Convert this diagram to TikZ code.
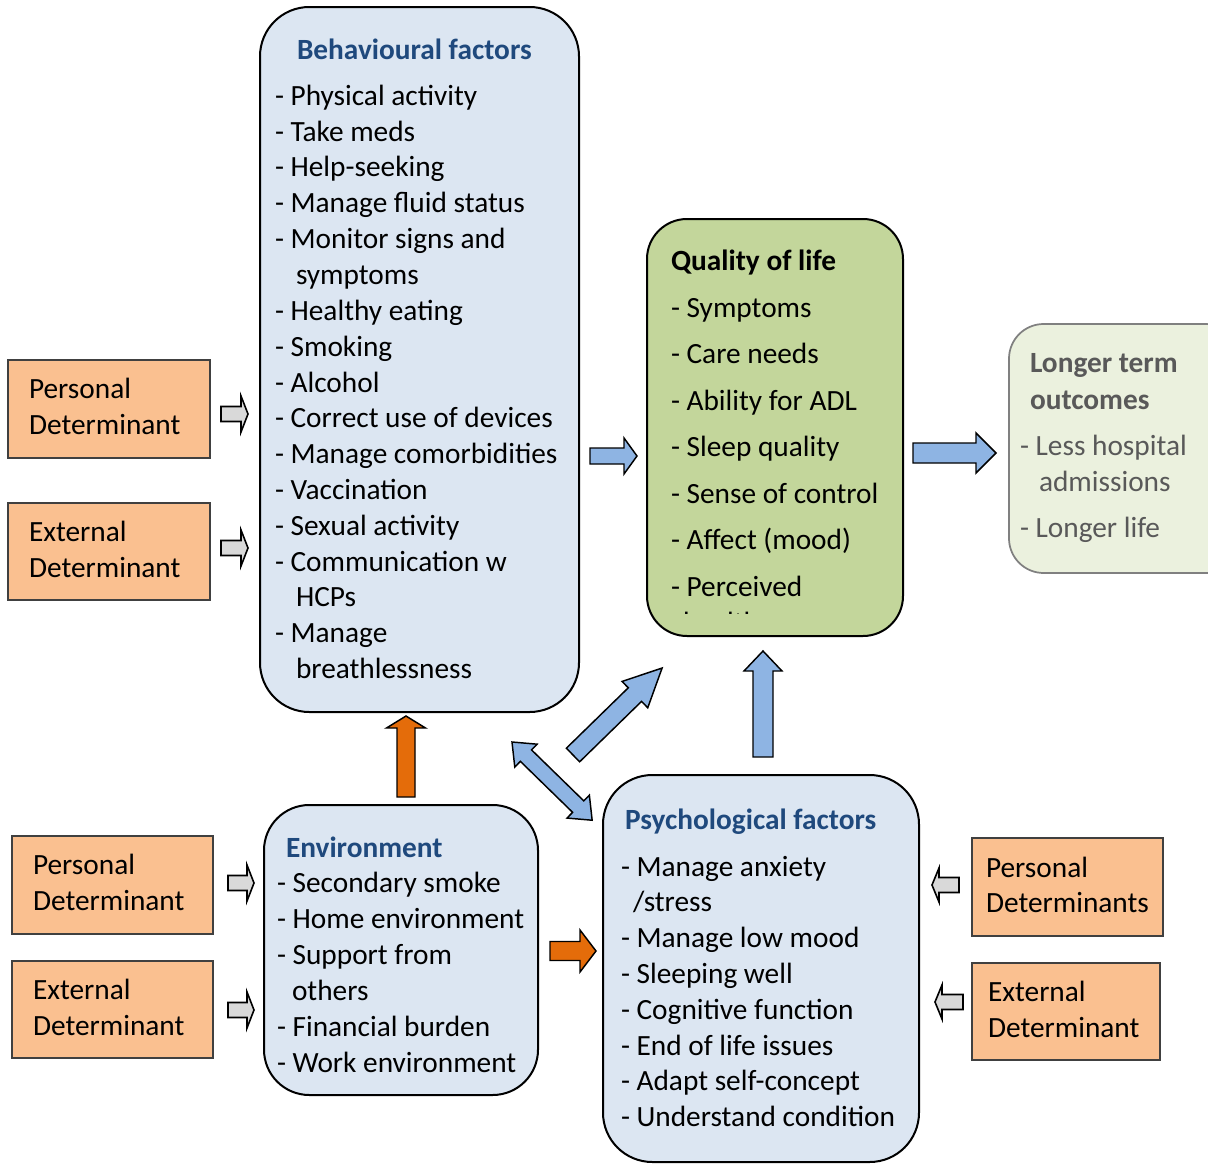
\documentclass[tikz,border=0pt]{standalone}
\usepackage{fontspec}
\setmainfont{Carlito}
\usetikzlibrary{fit}
\definecolor{boxblue}{HTML}{DCE6F2}
\definecolor{titleblue}{HTML}{1F497D}
\definecolor{qolgreen}{HTML}{C3D69B}
\definecolor{outgreen}{HTML}{EBF1DE}
\definecolor{outgrey}{HTML}{595959}
\definecolor{detorange}{HTML}{FAC090}
\definecolor{arrgrey}{HTML}{D9D9D9}
\definecolor{arrblue}{HTML}{8EB4E3}
\definecolor{arrorange}{HTML}{E46C0A}
\tikzset{
  bigbox/.style={draw=black, line width=1.5pt, inner sep=0pt},
  detbox/.style={draw=black!75, line width=1.1pt, fill=detorange, inner sep=0pt},
  txt/.style={anchor=base west, inner sep=0pt, outer sep=0pt},
  ttl/.style={txt, font=\fontsize{22}{26}\selectfont\bfseries},
  greyarr/.style={draw=black, line width=1.2pt, fill=arrgrey, line join=miter},
  bluearr/.style={draw=black, line width=1.1pt, fill=arrblue, line join=miter},
  orangearr/.style={draw=black, line width=1.1pt, fill=arrorange, line join=miter},
}
% #1 style, #2 x, #3 y (tail centre), #4 angle, #5 length, #6 body half, #7 head half, #8 head length
\newcommand\blkarrow[8]{%
  \begin{scope}[shift={(#2,#3)}, rotate=#4]
    \draw[#1] (0,-#6) -- ({#5-#8},-#6) -- ({#5-#8},-#7) -- (#5,0) -- ({#5-#8},#7) -- ({#5-#8},#6) -- (0,#6) -- cycle;
  \end{scope}}
\newcommand\dblarrow[8]{%
  \begin{scope}[shift={(#2,#3)}, rotate=#4]
    \draw[#1] (0,0) -- (#8,-#7) -- (#8,-#6) -- ({#5-#8},-#6) -- ({#5-#8},-#7) -- (#5,0) -- ({#5-#8},#7) -- ({#5-#8},#6) -- (#8,#6) -- (#8,#7) -- cycle;
  \end{scope}}
\begin{document}
\begin{tikzpicture}[x=0.75pt,y=-0.75pt, font=\fontsize{22}{26}\selectfont]
\clip (0,0) rectangle (1208,1164);
\fill[white] (0,0) rectangle (1208,1164);

% ---------- main boxes ----------
\node[bigbox, fill=boxblue, rounded corners=37pt, fit={(260,7) (579,712)}] (beh) {};
\node[bigbox, fill=qolgreen, rounded corners=30pt, fit={(647,219) (903,636)}] (qol) {};
\node[draw=black!50, line width=1.3pt, fill=outgreen, inner sep=0pt, rounded corners=26pt, fit={(1009,324) (1240,573)}] (out) {};
\node[bigbox, fill=boxblue, rounded corners=34pt, fit={(264,805) (538,1095)}] (env) {};
\node[bigbox, fill=boxblue, rounded corners=37pt, fit={(603,775) (919,1162)}] (psy) {};

% ---------- determinant boxes ----------
\node[detbox, fit={(8,360) (210,458)}] (pd1) {};
\node[detbox, fit={(8,503) (210,600)}] (ed1) {};
\node[detbox, fit={(12,836) (213,934)}] (pd2) {};
\node[detbox, fit={(12,961) (213,1058)}] (ed2) {};
\node[detbox, fit={(972,838) (1163,936)}] (pd3) {};
\node[detbox, fit={(972,963) (1160,1060)}] (ed3) {};

\node[txt] (pd1a) at (29,398) {Personal};
\node[txt] (pd1b) at (29,434) {Determinant};
\node[txt] (ed1a) at (29,541) {External};
\node[txt] (ed1b) at (29,577) {Determinant};
\node[txt] (pd2a) at (33,874) {Personal};
\node[txt] (pd2b) at (33,910) {Determinant};
\node[txt] (ed2a) at (33,999) {External};
\node[txt] (ed2b) at (33,1035) {Determinant};
\node[txt] (pd3a) at (986,877) {Personal};
\node[txt] (pd3b) at (986,912) {Determinants};
\node[txt] (ed3a) at (988,1001) {External};
\node[txt] (ed3b) at (988,1037) {Determinant};

% ---------- Behavioural factors ----------
\node[ttl, text=titleblue] (behT) at (297,59) {Behavioural factors};
\foreach \yy/\xx/\tt [count=\i] in {
  96/275/{- Physical activity},
  132/275/{- Take meds},
  167/275/{- Help-seeking},
  203/275/{- Manage fluid status},
  239/275/{- Monitor signs and},
  275/296/{symptoms},
  311/275/{- Healthy eating},
  347/275/{- Smoking},
  383/275/{- Alcohol},
  418/275/{- Correct use of devices},
  454/275/{- Manage comorbidities},
  490/275/{- Vaccination},
  526/275/{- Sexual activity},
  562/275/{- Communication w},
  597/296/{HCPs},
  633/275/{- Manage},
  669/296/{breathlessness}}
  \node[txt] (beh\i) at (\xx,\yy+9) {\tt};

% ---------- Quality of life ----------
\node[ttl] (qolT) at (671,270) {Quality of life};
\foreach \yy/\tt [count=\i] in {
  308/{- Symptoms},
  354/{- Care needs},
  401/{- Ability for ADL},
  447/{- Sleep quality},
  494/{- Sense of control},
  540/{- Affect (mood)},
  587/{- Perceived}}
  \node[txt] (qol\i) at (671,\yy+9) {\tt};
\begin{scope}
  \clip (647,560) rectangle (903,613);
  \node[txt] (qol8) at (683,632) {health};
\end{scope}

% ---------- Longer term outcomes ----------
\node[ttl, text=outgrey] (outT1) at (1030,372) {Longer term};
\node[ttl, text=outgrey] (outT2) at (1030,409) {outcomes};
\node[txt, text=outgrey] (out1) at (1020,455) {- Less hospital};
\node[txt, text=outgrey] (out2) at (1039,491) {admissions};
\node[txt, text=outgrey] (out3) at (1020,537) {- Longer life};

% ---------- Environment ----------
\node[ttl, text=titleblue] (envT) at (286,857) {Environment};
\foreach \yy/\xx/\tt [count=\i] in {
  883/277/{- Secondary smoke},
  919/277/{- Home environment},
  955/277/{- Support from},
  991/292/{others},
  1027/277/{- Financial burden},
  1063/277/{- Work environment}}
  \node[txt] (env\i) at (\xx,\yy+9) {\tt};

% ---------- Psychological factors ----------
\node[ttl, text=titleblue] (psyT) at (625,829) {Psychological factors};
\foreach \yy/\xx/\tt [count=\i] in {
  867/621/{- Manage anxiety},
  902/633/{/stress},
  938/621/{- Manage low mood},
  974/621/{- Sleeping well},
  1010/621/{- Cognitive function},
  1046/621/{- End of life issues},
  1081/621/{- Adapt self-concept},
  1117/621/{- Understand condition}}
  \node[txt] (psy\i) at (\xx,\yy+9) {\tt};

% ---------- small grey arrows ----------
\blkarrow{greyarr}{221}{414}{0}{27}{7.5}{18}{7}
\blkarrow{greyarr}{221}{548}{0}{27}{7.5}{18}{7}
\blkarrow{greyarr}{228}{883}{0}{26}{7.5}{18}{7}
\blkarrow{greyarr}{228}{1010}{0}{26}{7.5}{18}{7}
\blkarrow{greyarr}{959}{885}{180}{27}{7.5}{17}{7}
\blkarrow{greyarr}{963}{1002}{180}{28}{7.5}{17}{7}

% ---------- blue arrows ----------
\blkarrow{bluearr}{590}{456}{0}{47}{8}{18}{13}
\blkarrow{bluearr}{913}{453}{0}{83}{10}{20}{20}
\blkarrow{bluearr}{763}{757}{90}{106}{10}{19}{20}
\blkarrow{bluearr}{573}{755}{44.3}{124.5}{9.5}{18.4}{38}
\dblarrow{bluearr}{512}{742}{-44.3}{112}{8}{16}{19.5}

% ---------- orange arrows ----------
\blkarrow{orangearr}{406}{797}{90}{81}{9}{19.5}{12}
\blkarrow{orangearr}{550}{951}{0}{46}{9.5}{21}{16}
\end{tikzpicture}
\end{document}
